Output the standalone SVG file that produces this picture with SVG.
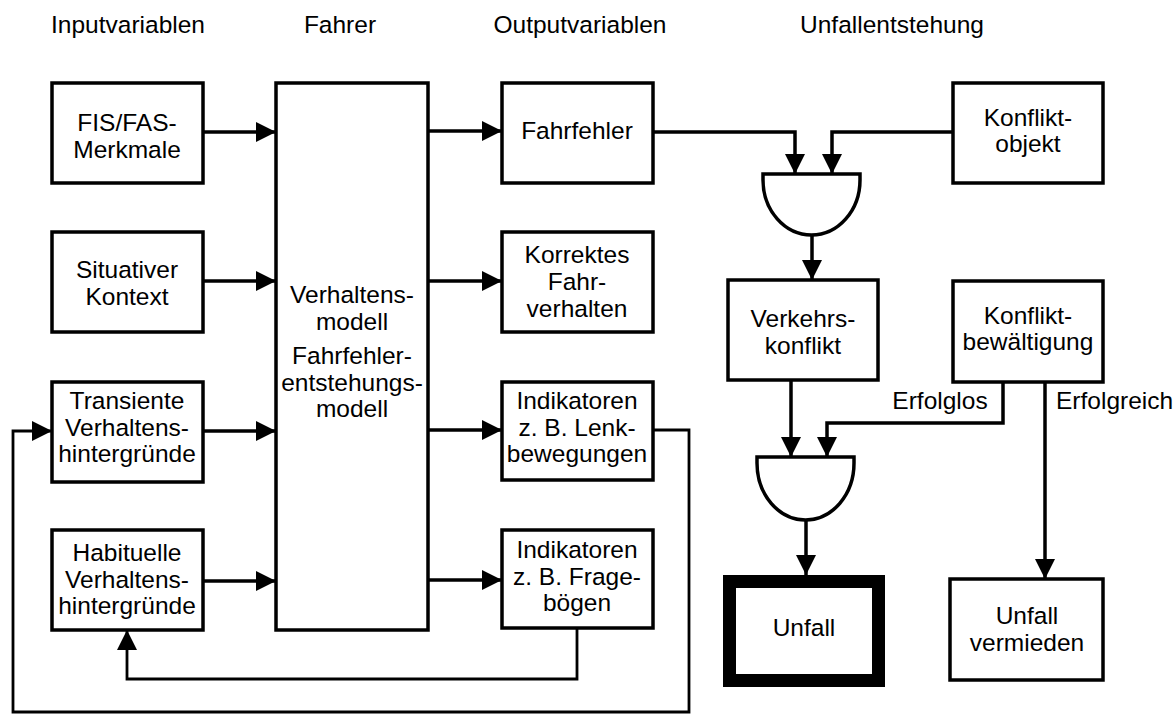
<svg xmlns="http://www.w3.org/2000/svg" width="1176" height="714" viewBox="0 0 1176 714">
<style>
text{font-family:"Liberation Sans",Arial,Helvetica,sans-serif;font-size:24.5px;fill:#000;text-anchor:middle}
.box{fill:#fff;stroke:#000;stroke-width:3.5}
.thick{fill:#fff;stroke:#000;stroke-width:13}
.gate{fill:#fff;stroke:#000;stroke-width:3.5}
.ln{fill:none;stroke:#000;stroke-width:3.5}
.ar{marker-end:url(#ah)}
.thin{stroke-width:2.8}
</style>
<defs>
<marker id="ah" markerUnits="userSpaceOnUse" markerWidth="22" markerHeight="22" refX="20" refY="10" orient="auto">
<path d="M0,0 L20,10 L0,20 Z" fill="#000"/>
</marker>
</defs>
<g id="headers">
<text x="128" y="33">Inputvariablen</text>
<text x="340" y="33">Fahrer</text>
<text x="580" y="33">Outputvariablen</text>
<text x="892" y="33">Unfallentstehung</text>
</g>
<g id="connectors">
<path class="ln ar" d="M203,132 H276"/>
<path class="ln ar" d="M203,281 H276"/>
<path class="ln ar" d="M203,431 H276"/>
<path class="ln ar" d="M203,581 H276"/>
<path class="ln ar" d="M428,131 H502"/>
<path class="ln ar" d="M428,281 H502"/>
<path class="ln ar" d="M428,430 H502"/>
<path class="ln ar" d="M428,580 H502"/>
<path class="ln thin ar" d="M653,430 H689 V712 H13 V431 H52"/>
<path class="ln thin ar" d="M577,628 V679 H127 V630"/>
<path class="ln ar" d="M653,132 H795 V174"/>
<path class="ln ar" d="M953,132 H832 V174"/>
<path class="ln ar" d="M812,235 V280"/>
<path class="ln ar" d="M791,380 V457"/>
<path class="ln ar" d="M1003,382 V423 H827 V457"/>
<path class="ln ar" d="M806,520 V575"/>
<path class="ln ar" d="M1045,382 V579"/>
</g>
<g id="fis"><rect class="box" x="52" y="83" width="151" height="100"/><text x="127" y="131">FIS/FAS-</text><text x="127" y="158">Merkmale</text></g>
<g id="situativ"><rect class="box" x="52" y="232" width="151" height="100"/><text x="127" y="278">Situativer</text><text x="127" y="305">Kontext</text></g>
<g id="transient"><rect class="box" x="52" y="382" width="151" height="100"/><text x="127" y="409">Transiente</text><text x="127" y="436">Verhaltens-</text><text x="127" y="462">hintergründe</text></g>
<g id="habituell"><rect class="box" x="52" y="530" width="151" height="100"/><text x="127" y="561">Habituelle</text><text x="127" y="588">Verhaltens-</text><text x="127" y="614">hintergründe</text></g>
<g id="fahrer"><rect class="box" x="276" y="83" width="152" height="547"/>
<text x="352" y="303">Verhaltens-</text><text x="352" y="330">modell</text>
<text x="352" y="364">Fahrfehler-</text><text x="352" y="391">entstehungs-</text><text x="352" y="417">modell</text></g>
<g id="fahrfehler"><rect class="box" x="502" y="83" width="151" height="100"/><text x="577" y="139">Fahrfehler</text></g>
<g id="korrekt"><rect class="box" x="502" y="232" width="151" height="100"/><text x="577" y="263">Korrektes</text><text x="577" y="290">Fahr-</text><text x="577" y="317">verhalten</text></g>
<g id="ind1"><rect class="box" x="502" y="382" width="151" height="98"/><text x="577" y="409">Indikatoren</text><text x="577" y="436">z. B. Lenk-</text><text x="577" y="462">bewegungen</text></g>
<g id="ind2"><rect class="box" x="502" y="530" width="151" height="98"/><text x="577" y="558">Indikatoren</text><text x="577" y="585">z. B. Frage-</text><text x="577" y="611">bögen</text></g>
<g id="konfliktobjekt"><rect class="box" x="953" y="83" width="150" height="100"/><text x="1028" y="126">Konflikt-</text><text x="1028" y="152">objekt</text></g>
<g id="gate1"><path class="gate" d="M763,174 H860 V180 A48.5,55 0 0 1 763,180 Z"/></g>
<g id="verkehrskonflikt"><rect class="box" x="728" y="280" width="150" height="100"/><text x="803" y="327">Verkehrs-</text><text x="803" y="354">konflikt</text></g>
<g id="bewaeltigung"><rect class="box" x="953" y="281" width="150" height="101"/><text x="1028" y="324">Konflikt-</text><text x="1028" y="350">bewältigung</text></g>
<g id="gate2"><path class="gate" d="M757,457 H854 V463 A48.5,57 0 0 1 757,463 Z"/></g>
<g id="labels"><text x="940" y="409">Erfolglos</text><text x="1056" y="409" style="text-anchor:start">Erfolgreich</text></g>
<g id="unfall"><rect class="thick" x="729.5" y="581.5" width="149" height="99"/><text x="804" y="636">Unfall</text></g>
<g id="vermieden"><rect class="box" x="950" y="579" width="153" height="101"/><text x="1027" y="624">Unfall</text><text x="1027" y="651">vermieden</text></g>
</svg>
